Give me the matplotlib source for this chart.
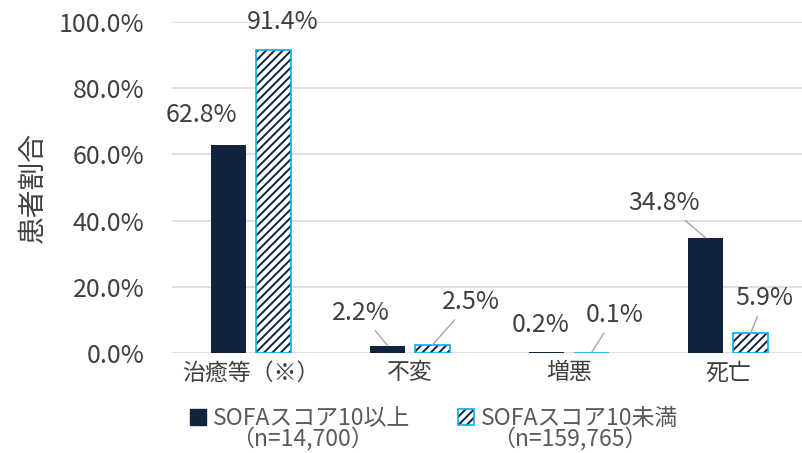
import numpy as np
import matplotlib
matplotlib.use("Agg")
import matplotlib.pyplot as plt
from matplotlib.patches import Patch
from matplotlib.ticker import FuncFormatter

plt.rcParams['font.family'] = ['Noto Sans CJK JP', 'DejaVu Sans']
plt.rcParams['hatch.linewidth'] = 1.4

categories = ['治癒等（※）', '不変', '増悪', '死亡']
high_sofa = [62.8, 2.2, 0.2, 34.8]
low_sofa = [91.4, 2.5, 0.1, 5.9]
series_names = ['SOFAスコア10以上', 'SOFAスコア10未満']
series_counts = ['（n=14,700）', '（n=159,765）']

# where each value label sits, in data units
high_label_pos = [(-0.31, 71.9), (0.69, 12.1), (1.82, 8.5), (2.60, 45.3)]
low_label_pos = [(0.20, 100.0), (1.38, 15.4), (2.29, 11.5), (3.23, 16.6)]
high_leader = [False, True, False, True]
low_leader = [False, True, True, True]

navy = '#13233E'
cyan = '#00B0F0'
txt = '#404040'

fig = plt.figure(figsize=(8.02, 4.53), dpi=100)
ax = fig.add_axes([0.2145, 0.2208, 0.7855, 0.7306])

x = np.arange(len(categories))
w = 0.22
off = 0.1415

ax.bar(x - off, high_sofa, width=w, color=navy, zorder=3)
ax.bar(x + off, low_sofa, width=w, color='white', edgecolor=navy,
       hatch='////', linewidth=0, zorder=3)
ax.bar(x + off, low_sofa, width=w, fill=False, edgecolor=cyan,
       linewidth=1.2, zorder=4)

for i in range(len(categories)):
    for vals, pos, lead, dx in ((high_sofa, high_label_pos, high_leader, -off),
                                (low_sofa, low_label_pos, low_leader, off)):
        v = vals[i]
        arrow = dict(arrowstyle='-', color='#A6A6A6', lw=1.0,
                     shrinkA=2, shrinkB=0) if lead[i] else None
        ax.annotate(f'{v:.1f}%', xy=(x[i] + dx, v), xytext=pos[i],
                    ha='center', va='center', fontsize=18, color=txt,
                    arrowprops=arrow, zorder=5)

ax.set_xlim(-0.497, 3.465)
ax.set_ylim(0, 100)
ax.set_yticks(np.arange(0, 101, 20))
ax.yaxis.set_major_formatter(FuncFormatter(lambda v, p: f'{v:.1f}%'))
ax.set_xticks(x)
ax.set_xticklabels(categories)
ax.tick_params(axis='y', length=0, labelsize=18, labelcolor=txt, pad=20)
ax.tick_params(axis='x', length=0, labelsize=16.5, labelcolor=txt, pad=6)
ax.grid(axis='y', color='#D9D9D9', lw=1.2, zorder=0)
for s in ax.spines.values():
    s.set_visible(False)
ax.set_ylabel('患者割合', fontsize=20, color=txt)
ax.yaxis.set_label_coords(-0.197, 0.5)

h1 = Patch(facecolor=navy, edgecolor=navy)
h2a = Patch(facecolor='white', edgecolor=navy, hatch='////', linewidth=0)
h2b = Patch(fill=False, edgecolor=cyan, linewidth=1.2)
leg = fig.legend([h1, (h2a, h2b)], series_names, loc='lower left',
                 bbox_to_anchor=(0.226, 0.03), ncol=2, frameon=False,
                 fontsize=16.5, labelcolor='#595959', handlelength=0.68,
                 handleheight=0.68, handletextpad=0.3, columnspacing=2.1,
                 borderaxespad=0)
fig.text(0.377, 0.029, series_counts[0], ha='center', va='center',
         fontsize=16.5, color='#595959')
fig.text(0.71, 0.029, series_counts[1], ha='center', va='center',
         fontsize=16.5, color='#595959')

fig.savefig('out.png', dpi=100)
